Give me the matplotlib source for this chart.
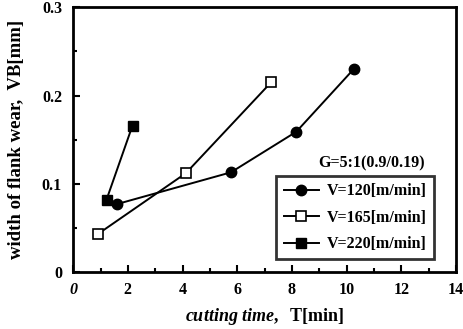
import numpy as np
from matplotlib import pyplot as plt
from matplotlib.ticker import MultipleLocator

plt.rcParams['font.family'] = ['Liberation Serif', 'DejaVu Serif']
plt.rcParams['font.weight'] = 'bold'
plt.rcParams['mathtext.fontset'] = 'custom'
plt.rcParams['mathtext.rm'] = 'Liberation Serif:bold'
plt.rcParams['mathtext.it'] = 'Liberation Serif:italic:bold'

t_120 = [1.6, 5.77, 8.16, 10.26]
vb_120 = [0.077, 0.113, 0.159, 0.230]
t_165 = [0.9, 4.12, 7.24]
vb_165 = [0.043, 0.112, 0.215]
t_220 = [1.22, 2.17]
vb_220 = [0.082, 0.166]
labels = ["V=120[m/min]", "V=165[m/min]", "V=220[m/min]"]

fig = plt.figure(figsize=(4.63, 3.29), dpi=100)
ax = fig.add_axes([0.158, 0.173, 0.827, 0.805])

l1, = ax.plot(t_120, vb_120, color='black', lw=1.4, marker='o', ms=7.5, mfc='black')
l2, = ax.plot(t_165, vb_165, color='black', lw=1.4, marker='s', ms=6.5, mfc='white', mew=1.2)
l3, = ax.plot(t_220, vb_220, color='black', lw=1.4, marker='s', ms=7.5, mfc='black')

ax.set_xlim(0, 14)
ax.set_ylim(0, 0.3)
ax.set_xticks(np.arange(0, 15, 2))
ax.set_yticks([0, 0.1, 0.2, 0.3])
ax.set_yticklabels(['0', '0.1', '0.2', '0.3'], fontsize=11.5, fontweight='bold')
ax.set_xticklabels([str(v) for v in range(0, 15, 2)], fontsize=11.5, fontweight='bold')
ax.get_xticklabels()[0].set_style('italic')
ax.xaxis.set_minor_locator(MultipleLocator(1))
ax.yaxis.set_minor_locator(MultipleLocator(0.05))
ax.tick_params(which='both', direction='in', top=False, right=False, width=1.5)
ax.tick_params(which='major', length=5)
ax.tick_params(which='minor', length=3)
ax.tick_params(axis='y', pad=8)
ax.tick_params(axis='x', pad=7)
for s in ax.spines.values():
    s.set_linewidth(2)

ax.set_ylabel("width of flank wear,  VB[mm]", fontsize=13.5, fontweight='bold', labelpad=12)
ax.set_xlabel(r"$\mathit{cutting\ time,}$  T[min]", fontsize=13, fontweight='bold', labelpad=6)

leg = ax.legend([l1, l2, l3], labels, loc='lower right', bbox_to_anchor=(0.963, 0.018),
                frameon=True, fancybox=False, edgecolor='black', fontsize=11.5,
                handlelength=2.2, borderpad=0.45, labelspacing=0.65, handletextpad=0.5)
leg.get_frame().set_linewidth(2)
ax.text(0.78, 0.38, "G=5:1(0.9/0.19)", transform=ax.transAxes, ha='center',
        va='bottom', fontsize=11.5, fontweight='bold')

fig.savefig('out.png', dpi=100)
